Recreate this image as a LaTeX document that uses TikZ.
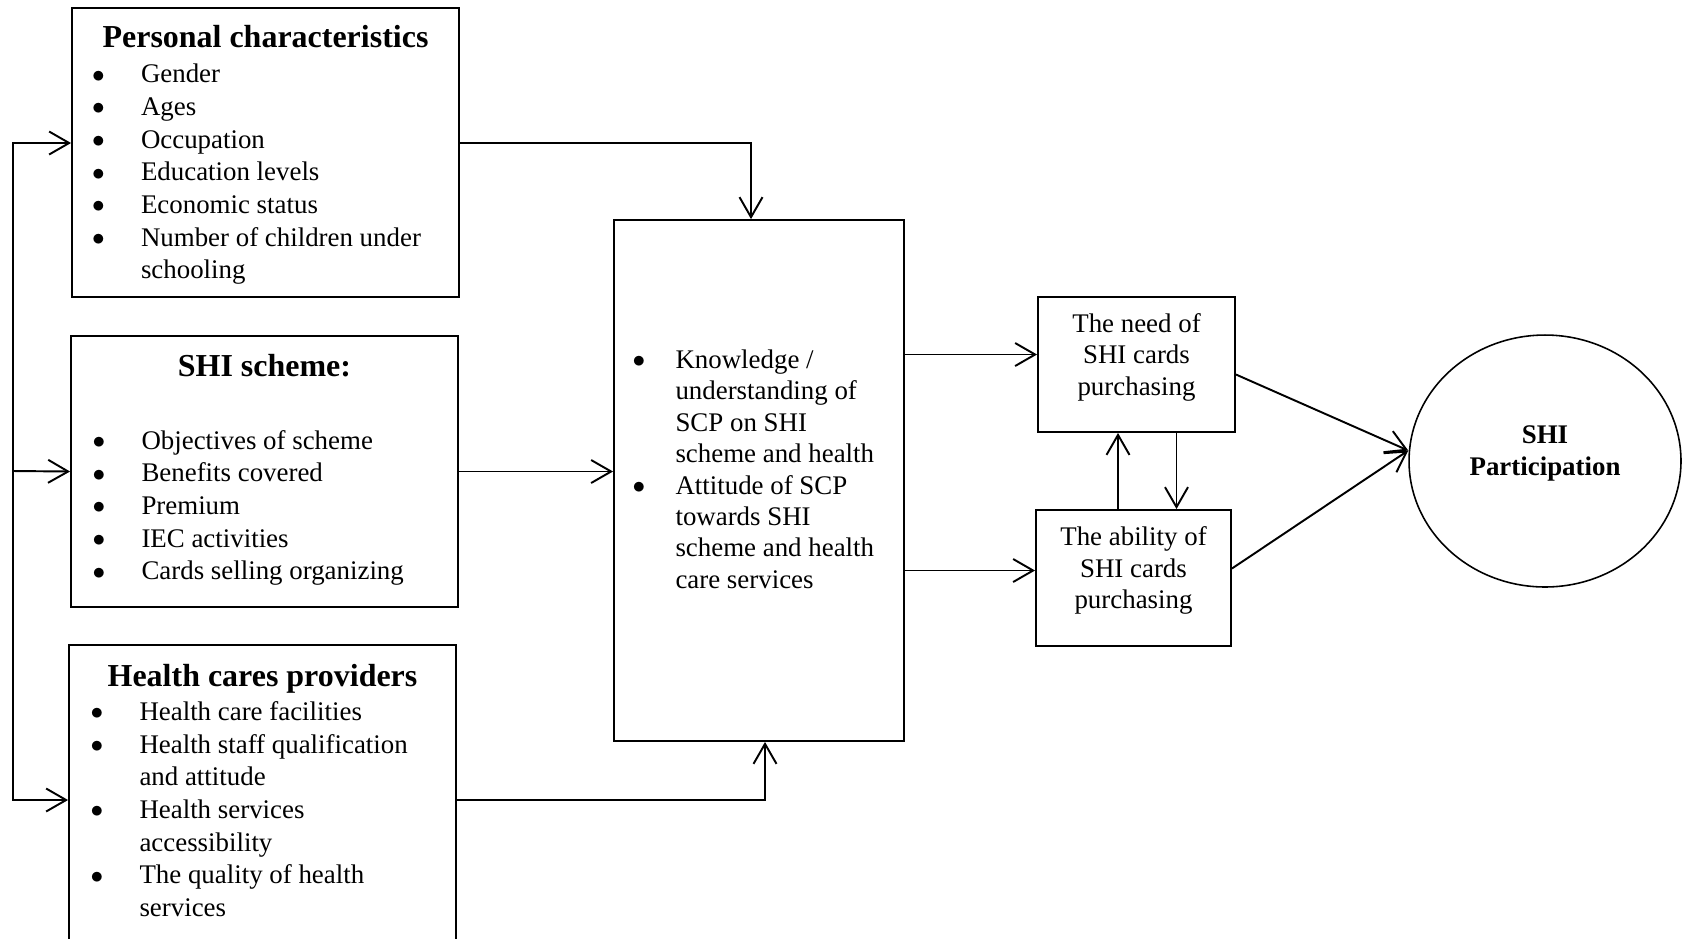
\documentclass[tikz,border=0pt]{standalone}
\usepackage{fontspec}
\setmainfont{Liberation Serif}
\usepackage{array}
\usepackage{tikz}
\usetikzlibrary{arrows.meta,positioning,calc,shapes.geometric}
\newcommand{\titel}{\fontsize{18.2}{21}\selectfont\bfseries}
\newcommand{\punkt}{\raisebox{0.4pt}{$\bullet$}}
\newcommand{\heben}[2]{\raisebox{#1}[\height][\depth]{#2}}

\begin{document}
\begin{tikzpicture}[x=0.02cm,y=-0.02cm,line width=1.1pt,
  >={Straight Barb[length=4mm,width=4.6mm]},
  kasten/.style={draw,line width=1.1pt,inner sep=0pt,align=left,font=\fontsize{15.3}{18.6}\selectfont},
  klein/.style={kasten,font=\fontsize{15.3}{17.8}\selectfont},
  kreis/.style={ellipse,draw,line width=0.9pt,inner sep=0pt,font=\fontsize{15.3}{18.2}\selectfont\bfseries}]
%Koordinaten in Pixeln des Bildes (1682 x 938), y nach unten
\useasboundingbox (0,0) rectangle (1682,938);
%linke Spalte
\node[kasten,minimum width=7.74cm,minimum height=5.78cm] (pers) at (265.5,152.5) {\heben{-2.4pt}{%
\begin{tabular}{@{}p{0.98cm}@{}p{5.9cm}@{}}
\multicolumn{2}{c}{\titel Personal characteristics}\\[1.3pt]
\punkt & Gender\\
\punkt & Ages\\
\punkt & Occupation\\
\punkt & Education levels\\
\punkt & Economic status\\
\punkt & Number of children under\newline schooling
\end{tabular}}};
\node[kasten,minimum width=7.74cm,minimum height=5.42cm] (shi) at (264.5,471.5) {%
\begin{tabular}{@{}p{0.98cm}@{}p{5.9cm}@{}}
\multicolumn{2}{c}{\titel SHI scheme:}\\[23pt]
\punkt & Objectives of scheme\\
\punkt & Benefits covered\\
\punkt & Premium\\
\punkt & IEC activities\\
\punkt & Cards selling organizing
\end{tabular}};
\node[kasten,minimum width=7.74cm,minimum height=6.2cm] (hcp) at (262.5,800) {\heben{3pt}{%
\begin{tabular}{@{}p{0.98cm}@{}p{5.9cm}@{}}
\multicolumn{2}{c}{\titel Health cares providers}\\[1pt]
\punkt & Health care facilities\\
\punkt & Health staff qualification\newline and attitude\\
\punkt & Health services\newline accessibility\\
\punkt & The quality of health\newline services
\end{tabular}}};
%Mitte
\node[kasten,minimum width=5.8cm,minimum height=10.42cm,font=\fontsize{15.3}{17.9}\selectfont] (scp) at (759,480.5) {\heben{4.8pt}{%
\begin{tabular}{@{}p{0.86cm}@{}p{4.2cm}@{}}
\punkt & Knowledge /\newline understanding of\newline SCP on SHI\newline scheme and health\\
\punkt & Attitude of SCP\newline towards SHI\newline scheme and health\newline care services
\end{tabular}}};
%rechts
\node[klein,minimum width=3.94cm,minimum height=2.7cm] (need) at (1136.5,364.5) {\heben{4pt}{%
\begin{tabular}{@{}c@{}}The need of\\SHI cards\\purchasing\end{tabular}}};
\node[klein,minimum width=3.9cm,minimum height=2.72cm] (abl) at (1133.5,578) {\heben{4pt}{%
\begin{tabular}{@{}c@{}}The ability of\\SHI cards\\purchasing\end{tabular}}};
\node[kreis,minimum width=5.44cm,minimum height=5.04cm] (part) at (1545,461) {\heben{4.3pt}{%
\begin{tabular}{@{}c@{}}SHI\\Participation\end{tabular}}};
%Pfeile
\coordinate (bus) at (13,471);
\draw[->] (bus) |- ([yshift=0.19cm]pers.west);
\draw[->] (bus) -- (shi.west);
\draw[->] (bus) |- (hcp.west);
\draw[->] ([yshift=0.19cm]pers.east) -| ([xshift=-0.16cm]scp.north);
\draw[->] (shi.east) -- (shi.east -| scp.west);
\draw[->] (hcp.east) -| ([xshift=0.12cm]scp.south);
\draw[->] ([yshift=0.2cm]need.west -| scp.east) -- ([yshift=0.2cm]need.west);
\draw[->] ([yshift=0.15cm]abl.west -| scp.east) -- ([yshift=0.15cm]abl.west);
\draw[->] ([yshift=-0.2cm]need.east) -- ([yshift=0.21cm]part.west);
\draw[->] ([yshift=0.19cm]abl.east) -- ([yshift=0.21cm]part.west);
\coordinate (hoch) at ([xshift=-0.31cm]abl.north);
\coordinate (runter) at ([xshift=0.8cm]need.south);
\draw[->] (hoch) -- (hoch |- need.south);
\draw[->] (runter) -- (runter |- abl.north);
\end{tikzpicture}
\end{document}
